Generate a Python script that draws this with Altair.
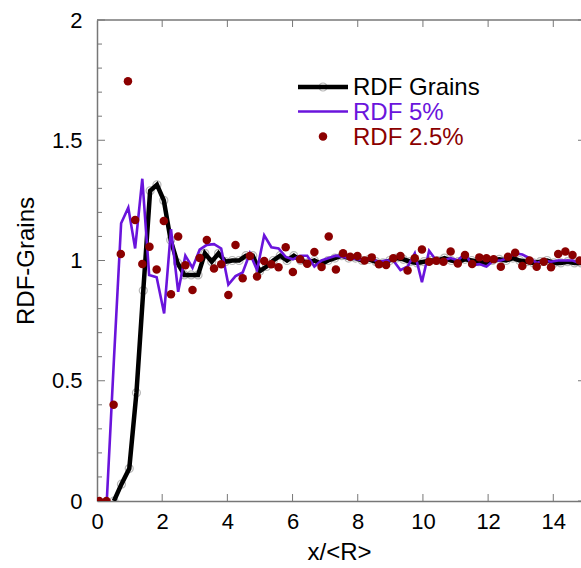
import altair as alt
import pandas as pd

# ---------------- data ----------------
grains_x = [0.52, 0.75, 0.99, 1.21, 1.42, 1.63, 1.84, 2.05, 2.26, 2.47,
            2.68, 2.89, 3.10, 3.31, 3.52, 3.73, 3.94, 4.15, 4.36, 4.57,
            4.78, 4.99, 5.20, 5.41, 5.62, 5.83, 6.04, 6.25, 6.46, 6.67,
            6.88, 7.09, 7.30, 7.51, 7.72, 7.93, 8.14, 8.35, 8.56, 8.77,
            8.98, 9.19, 9.40, 9.61, 9.82, 10.03, 10.24, 10.45, 10.66, 10.87,
            11.08, 11.29, 11.50, 11.71, 11.92, 12.13, 12.34, 12.55, 12.76, 12.97,
            13.18, 13.39, 13.60, 13.81, 14.02, 14.23, 14.44, 14.65, 14.86]
grains_y = [0.0, 0.07, 0.135, 0.45, 0.875, 1.29, 1.315, 1.25, 1.085, 0.99,
            0.94, 0.94, 0.94, 1.03, 0.995, 1.03, 0.995, 1.0, 1.0, 1.02,
            1.02, 0.955, 0.975, 1.0, 1.02, 1.0, 1.02, 1.0, 0.99, 1.0,
            0.985, 1.0, 1.01, 1.02, 1.01, 1.01, 1.0, 1.005, 0.995, 0.99,
            1.0, 1.01, 1.005, 0.995, 0.99, 0.995, 1.0, 1.0, 1.01, 1.0,
            0.995, 1.005, 1.0, 0.995, 0.99, 1.0, 1.005, 1.0, 1.01, 1.0,
            0.995, 0.99, 0.995, 1.0, 0.99, 0.99, 0.995, 0.99, 0.99]

p5_x = [0.30, 0.52, 0.74, 0.96, 1.17, 1.39, 1.60, 1.83, 2.06, 2.27,
        2.49, 2.71, 2.93, 3.15, 3.37, 3.59, 3.81, 4.03, 4.25, 4.47,
        4.69, 4.91, 5.13, 5.35, 5.57, 5.79, 6.01, 6.23, 6.45, 6.67,
        6.89, 7.11, 7.33, 7.55, 7.77, 7.99, 8.21, 8.43, 8.65, 8.87,
        9.09, 9.31, 9.53, 9.75, 9.97, 10.19, 10.41, 10.63, 10.85, 11.07,
        11.29, 11.51, 11.73, 11.95, 12.17, 12.39, 12.61, 12.83, 13.05, 13.27,
        13.49, 13.71, 13.93, 14.15, 14.37, 14.59, 14.81]
p5_y = [0.0, 0.59, 1.155, 1.22, 1.05, 1.34, 0.94, 0.93, 0.78, 1.13,
        0.87, 1.02, 0.97, 1.045, 1.065, 1.068, 1.05, 0.90, 0.935, 0.95,
        1.03, 0.96, 1.105, 1.055, 1.05, 1.015, 1.005, 1.02, 1.02, 0.975,
        1.0, 1.01, 1.02, 1.015, 1.01, 1.005, 1.0, 1.005, 0.995, 1.0,
        1.0, 0.96, 0.975, 1.03, 0.91, 1.04, 1.0, 1.0, 1.01, 1.0,
        1.03, 0.98, 0.985, 0.975, 1.0, 1.0, 1.01, 1.03, 1.025, 1.01,
        0.99, 1.0, 0.995, 1.0, 1.0, 1.0, 0.99]

p25_x = [0.07, 0.29, 0.51, 0.73, 0.95, 1.17, 1.39, 1.61, 1.83, 2.05,
         2.27, 2.49, 2.71, 2.93, 3.15, 3.37, 3.59, 3.81, 4.03, 4.25,
         4.47, 4.69, 4.91, 5.13, 5.35, 5.57, 5.79, 6.01, 6.23, 6.45,
         6.67, 6.89, 7.11, 7.33, 7.55, 7.77, 7.99, 8.21, 8.43, 8.65,
         8.87, 9.09, 9.31, 9.53, 9.75, 9.97, 10.19, 10.41, 10.63, 10.85,
         11.07, 11.29, 11.51, 11.73, 11.95, 12.17, 12.39, 12.61, 12.83, 13.05,
         13.27, 13.49, 13.71, 13.93, 14.15, 14.37, 14.59, 14.81]
p25_y = [0.0, 0.0, 0.40, 1.027, 1.745, 1.168, 0.985, 1.057, 0.963, 1.164,
         0.86, 1.10, 0.98, 0.877, 1.01, 1.085, 0.967, 0.984, 0.857, 1.064,
         0.926, 1.019, 0.933, 0.998, 0.984, 0.972, 1.055, 0.952, 1.005, 0.986,
         1.035, 0.973, 1.10, 0.963, 1.03, 1.016, 1.019, 1.0, 1.013, 0.984,
         0.981, 1.009, 1.019, 0.958, 1.009, 1.046, 0.995, 0.999, 0.995, 1.037,
         0.988, 1.023, 0.985, 1.013, 1.009, 1.005, 0.974, 1.016, 1.032, 0.977,
         1.0, 0.974, 0.995, 0.972, 1.027, 1.037, 1.023, 1.0]

x_ticks = [0, 2, 4, 6, 8, 10, 12, 14]
y_ticks = [0, 0.5, 1, 1.5, 2]
y_minor = [0.1, 0.2, 0.3, 0.4, 0.6, 0.7, 0.8, 0.9,
           1.1, 1.2, 1.3, 1.4, 1.6, 1.7, 1.8, 1.9]
series_names = ["RDF Grains", "RDF 5%", "RDF 2.5%"]
series_colors = ["#000000", "#6a14dc", "#8b0000"]

# ---------------- layout ----------------
W, H = 484, 481
FONT = "Liberation Sans"
AX = "#777777"
CIRC = "#9a9a9a"

xs = alt.Scale(domain=[0, 14.85], nice=False, zero=False)
ys = alt.Scale(domain=[0, 2], nice=False, zero=False)

X = alt.X("x:Q", scale=xs, axis=alt.Axis(values=x_ticks, title="x/<R>", labelFlush=False,
                                          labelPadding=10, titlePadding=8))
Y = alt.Y("y:Q", scale=ys, axis=alt.Axis(values=y_ticks, format="~g", title="RDF-Grains",
                                          labelFlush=False, labelPadding=15, titlePadding=13))
Xn = alt.X("x:Q", scale=xs)
Yn = alt.Y("y:Q", scale=ys)

g = pd.DataFrame({"x": grains_x, "y": grains_y})
p5 = pd.DataFrame({"x": p5_x, "y": p5_y})
p25 = pd.DataFrame({"x": p25_x, "y": p25_y})

grains_pts = alt.Chart(g).mark_point(shape="circle", filled=False, color=CIRC, size=64,
                                     strokeWidth=1.2, clip=True).encode(x=X, y=Y)
grains_line = alt.Chart(g).mark_line(color=series_colors[0], strokeWidth=4.5, clip=True).encode(x=Xn, y=Yn)
p5_line = alt.Chart(p5).mark_line(color=series_colors[1], strokeWidth=2.6, clip=True).encode(x=Xn, y=Yn)
p25_pts = alt.Chart(p25).mark_circle(color=series_colors[2], size=72, opacity=1, clip=True).encode(x=Xn, y=Yn)

# inward ticks and frame
xt = pd.DataFrame({"x": x_ticks[1:]})
yt = pd.DataFrame({"y": y_ticks})
ym = pd.DataFrame({"y": y_minor})
bottom_ticks = alt.Chart(xt).mark_rule(color=AX, strokeWidth=1).encode(x=Xn, y=alt.value(H), y2=alt.value(H - 7))
top_ticks = alt.Chart(xt).mark_rule(color=AX, strokeWidth=1).encode(x=Xn, y=alt.value(0), y2=alt.value(7))
left_major = alt.Chart(yt).mark_rule(color=AX, strokeWidth=1).encode(y=Yn, x=alt.value(0), x2=alt.value(8))
left_minor = alt.Chart(ym).mark_rule(color=AX, strokeWidth=1).encode(y=Yn, x=alt.value(0), x2=alt.value(5))
right_major = alt.Chart(yt).mark_rule(color=AX, strokeWidth=1).encode(y=Yn, x=alt.value(W - 3), x2=alt.value(W))
top_border = alt.Chart(pd.DataFrame({"a": [0]})).mark_rule(color=AX, strokeWidth=1.5).encode(
    x=alt.value(0), x2=alt.value(W), y=alt.value(0))

# legend
one = pd.DataFrame({"a": [0]})
LX0, LX1, LXC, LTX = 201, 251, 226, 256
rows = [67, 91.5, 116.5]
leg = [
    alt.Chart(one).mark_point(shape="circle", filled=False, color=CIRC, size=64, strokeWidth=1.2).encode(
        x=alt.value(LXC), y=alt.value(rows[0])),
    alt.Chart(one).mark_rule(color=series_colors[0], strokeWidth=4.5).encode(
        x=alt.value(LX0), x2=alt.value(LX1), y=alt.value(rows[0])),
    alt.Chart(one).mark_rule(color=series_colors[1], strokeWidth=2.6).encode(
        x=alt.value(LX0), x2=alt.value(LX1), y=alt.value(rows[1])),
    alt.Chart(one).mark_circle(color=series_colors[2], size=72, opacity=1).encode(
        x=alt.value(LXC), y=alt.value(rows[2])),
]
for name, col, ry in zip(series_names, series_colors, rows):
    leg.append(alt.Chart(one).mark_text(text=name, color=col, font=FONT, fontSize=24,
                                        align="left", baseline="middle").encode(
        x=alt.value(LTX), y=alt.value(ry + 1)))

chart = alt.layer(
    grains_pts, bottom_ticks, top_ticks, left_major, left_minor, right_major, top_border,
    grains_line, p5_line, p25_pts, *leg
).properties(
    width=W, height=H,
    autosize=alt.AutoSizeParams(type="none"),
    padding={"left": 97, "top": 20, "right": 0, "bottom": 67},
    background="white",
).configure_view(stroke=None).configure_axis(
    grid=False, tickSize=0, domainColor=AX, domainWidth=1.5,
    labelFont=FONT, titleFont=FONT, labelFontSize=22, titleFontSize=24,
    titleFontWeight="normal", labelColor="black", titleColor="black",
)

chart.save("out.html", embed_options={"renderer": "svg", "actions": False})
